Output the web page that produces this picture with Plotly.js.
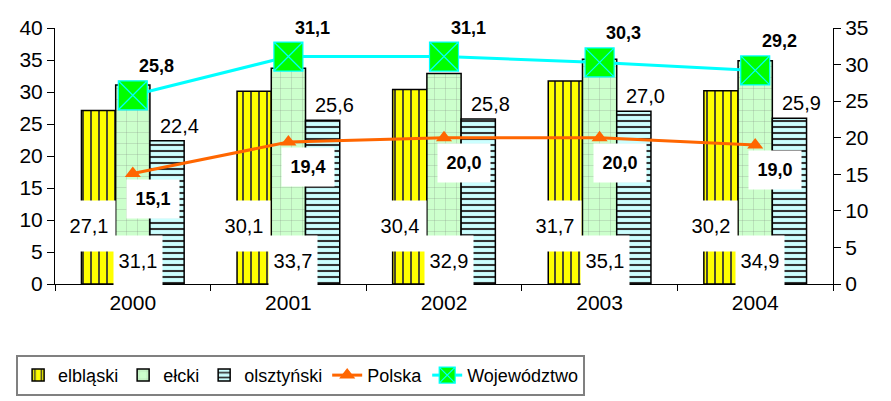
<!DOCTYPE html>
<html>
<head>
<meta charset="utf-8">
<script src="https://cdn.plot.ly/plotly-3.0.1.min.js"></script>
<style>html,body{margin:0;padding:0;background:#fff;}#chart{width:891px;height:401px;}</style>
</head>
<body>
<div id="chart"></div>
<script>
// ---- data ----
const years = ['2000', '2001', '2002', '2003', '2004'];
const elblaski = [27.1, 30.1, 30.4, 31.7, 30.2];
const elcki = [31.1, 33.7, 32.9, 35.1, 34.9];
const olsztynski = [22.4, 25.6, 25.8, 27.0, 25.9];
const polska = [15.1, 19.4, 20.0, 20.0, 19.0];
const wojewodztwo = [25.8, 31.1, 31.1, 30.3, 29.2];
const seriesNames = ['elbląski', 'ełcki', 'olsztyński', 'Polska', 'Województwo'];

// ---- layout constants ----
const W = 891, H = 401;
const M = {l: 55, r: 58, t: 28, b: 117, autoexpand: false};
const BARGAP = 0.34;
const catPx = (W - M.l - M.r) / years.length;
const barPx = catPx * (1 - BARGAP) / 3;
const FONT = 'Liberation Sans, Arial, sans-serif';
const fmt = v => v.toFixed(1).replace('.', ',');

const traces = [
  {type: 'bar', name: seriesNames[0], x: years, y: elblaski, xaxis: 'x', yaxis: 'y',
   marker: {color: '#ffff00', line: {color: '#000', width: 1.5},
            pattern: {shape: '|', size: 8, solidity: 0.22, fgcolor: '#333', bgcolor: '#ffff00'}}},
  {type: 'bar', name: seriesNames[1], x: years, y: elcki, xaxis: 'x', yaxis: 'y',
   marker: {color: '#ccffcc', line: {color: '#000', width: 1.5},
            pattern: {shape: '+', size: 11, solidity: 0.05, fgcolor: '#666', fgopacity: 0.7, bgcolor: '#ccffcc'}}},
  {type: 'bar', name: seriesNames[2], x: years, y: olsztynski, xaxis: 'x', yaxis: 'y',
   marker: {color: '#ccffff', line: {color: '#000', width: 1.5},
            pattern: {shape: '-', size: 6, solidity: 0.35, fgcolor: '#333', bgcolor: '#ccffff'}}},
  {type: 'scatter', mode: 'lines+markers', name: seriesNames[3], x: years, y: polska, xaxis: 'x', yaxis: 'y2',
   line: {color: '#ff6600', width: 3},
   marker: {symbol: 'triangle-up', size: 14, color: '#ff6600'}},
  {type: 'scatter', mode: 'lines+markers', name: seriesNames[4], x: years, y: wojewodztwo, xaxis: 'x', yaxis: 'y2',
   line: {color: '#00ffff', width: 3},
   marker: {symbol: 'square-x', size: 29, color: '#00ff00', line: {color: '#00ffff', width: 1.2}}}
];

const ann = [];
const baseFont = {family: FONT, size: 20, color: '#000'};
const boldFont = {family: FONT, size: 18, color: '#000', weight: 'bold'};
years.forEach((yr, i) => {
  // x given as category index
  ann.push({x: i, y: 9.1, xref: 'x', yref: 'y', text: fmt(elblaski[i]), showarrow: false,
            xshift: -barPx - 10, font: baseFont, bgcolor: '#fff', width: 50, height: 48});
  ann.push({x: i, y: 3.7, xref: 'x', yref: 'y', text: fmt(elcki[i]), showarrow: false,
            xshift: 5, font: baseFont, bgcolor: '#fff', width: 46, height: 47});
  ann.push({x: i, y: olsztynski[i], xref: 'x', yref: 'y', text: fmt(olsztynski[i]), showarrow: false,
            xshift: barPx + 12, yshift: 15, font: baseFont});
  ann.push({x: i, y: polska[i], xref: 'x', yref: 'y2', text: fmt(polska[i]), showarrow: false,
            xshift: 20, yshift: -25, font: boldFont, bgcolor: '#fff', width: 50, height: 36});
  ann.push({x: i, y: wojewodztwo[i], xref: 'x', yref: 'y2', text: fmt(wojewodztwo[i]), showarrow: false,
            xshift: 24, yshift: 29, font: boldFont});
});

const tickFont = {family: FONT, size: 21, color: '#000'};
const layout = {
  width: W, height: H, margin: M,
  paper_bgcolor: '#fff', plot_bgcolor: '#fff',
  barmode: 'group', bargap: BARGAP, bargroupgap: 0,
  showlegend: true,
  font: {family: FONT, color: '#000'},
  xaxis: {type: 'category', range: [-0.5, years.length - 0.5], tickson: 'boundaries', ticks: 'outside',
          ticklen: 6, tickcolor: '#000', showline: true, linecolor: '#000', linewidth: 1,
          showgrid: false, zeroline: false, tickfont: tickFont},
  xaxis2: {overlaying: 'x', anchor: 'y', type: 'linear', range: [-0.5, years.length - 0.5], tick0: -0.5, dtick: 1,
           ticks: 'inside', ticklen: 6, tickcolor: '#000', showticklabels: false, showline: false,
           showgrid: false, zeroline: false},
  yaxis: {range: [0, 40], dtick: 5, ticks: 'outside', ticklen: 7, tickcolor: '#000',
          showline: true, linecolor: '#000', linewidth: 1, showgrid: false, zeroline: false,
          tickfont: tickFont},
  yaxis2: {overlaying: 'y', side: 'right', anchor: 'x', range: [0, 35], dtick: 5, ticks: 'outside', ticklen: 7,
           tickcolor: '#000', showline: true, linecolor: '#000', linewidth: 1, showgrid: false,
           zeroline: false, tickfont: tickFont},
  yaxis3: {overlaying: 'y', anchor: 'x', range: [0, 40], dtick: 5, ticks: 'inside', ticklen: 7, tickcolor: '#000',
           showticklabels: false, showline: false, showgrid: false, zeroline: false},
  yaxis4: {overlaying: 'y', side: 'right', anchor: 'x', range: [0, 35], dtick: 5, ticks: 'inside', ticklen: 7,
           tickcolor: '#000', showticklabels: false, showline: false, showgrid: false, zeroline: false},
  legend: {orientation: 'h', x: -0.05, y: -0.277, xanchor: 'left', yanchor: 'top',
           bordercolor: '#808080', borderwidth: 2, bgcolor: '#fff',
           font: {family: FONT, size: 18, color: '#000'},
           traceorder: 'normal'},
  annotations: ann
};

Plotly.newPlot('chart', traces, layout, {displayModeBar: false, staticPlot: true});
</script>
</body>
</html>
